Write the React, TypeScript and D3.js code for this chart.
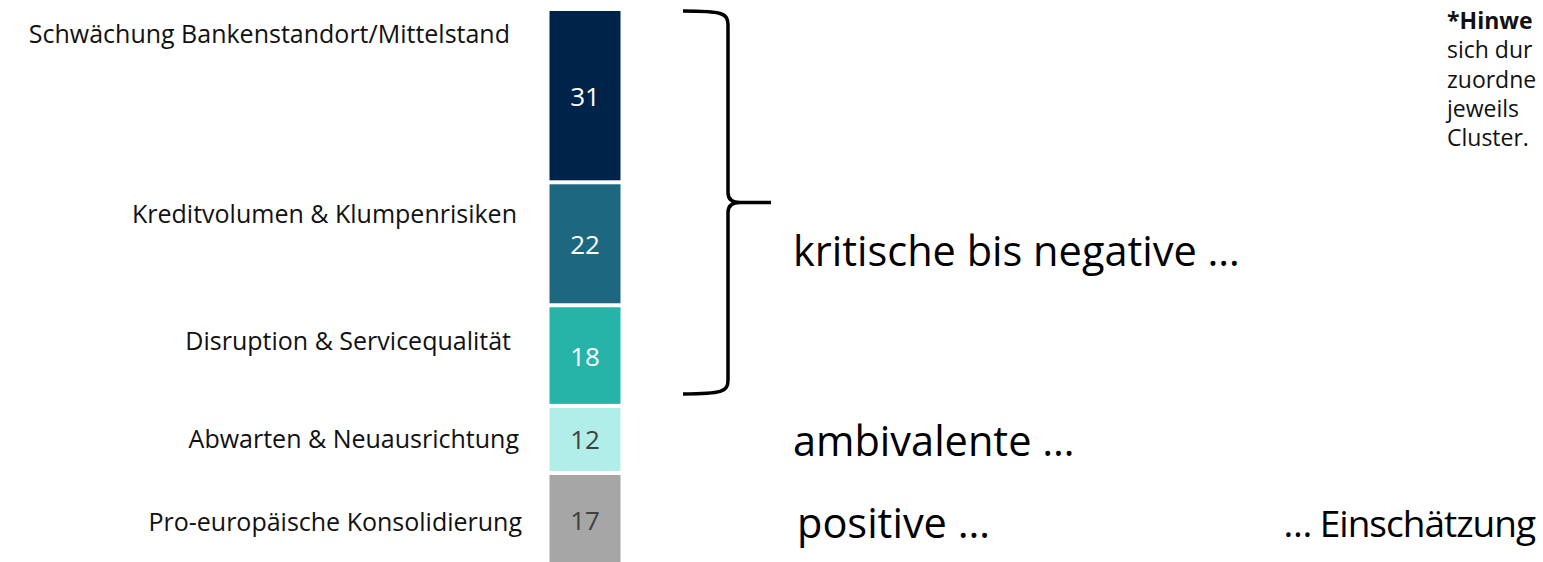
import React, { useEffect, useRef } from 'react';
import * as d3 from 'd3';

// cluster names (left labels), top to bottom
const categories = [
  'Schwächung Bankenstandort/Mittelstand',
  'Kreditvolumen & Klumpenrisiken',
  'Disruption & Servicequalität',
  'Abwarten & Neuausrichtung',
  'Pro-europäische Konsolidierung',
];
// share in %
const values = [31, 22, 18, 12, 17];

const groupLabels = ['kritische bis negative …', 'ambivalente …', 'positive …'];
const footLabel = '… Einschätzung';

// footnote, as far as it is visible on the slide
const noteLines = ['*Hinwe', 'sich dur', 'zuordne', 'jeweils', 'Cluster.'];

// styling
const fills = ['#00234a', '#1d6781', '#26b4a9', '#b1eee9', '#a6a6a6'];
const numberColors = ['#ffffff', '#ffffff', '#ffffff', '#404040', '#404040'];
// label nudges relative to segment centre (px) and right edges
const labelShift = [-63, -31, -16, -1, 1];
const labelRight = [510, 517, 511, 519, 522];

const W = 1543;
const H = 562;
const FONT = "'Open Sans', 'Noto Sans', sans-serif";

const App: React.FC = () => {
  const svgRef = useRef<SVGSVGElement>(null);

  useEffect(() => {
    if (!svgRef.current) return;
    const svg = d3.select(svgRef.current);
    svg.selectAll('*').remove();

    const barX = 549.5;
    const barW = 71;
    const gap = 4;

    const y = d3.scaleLinear().domain([0, 100]).range([11, 570]);

    const starts = values.map((_, i) => d3.sum(values.slice(0, i)));
    const segs = values.map((v, i) => ({
      name: categories[i],
      value: v,
      y0: y(starts[i]),
      y1: y(starts[i] + v) - gap,
      i,
    }));

    const g = svg.append('g');

    // stacked column
    g.selectAll('rect.seg')
      .data(segs)
      .enter()
      .append('rect')
      .attr('class', 'seg')
      .attr('x', barX)
      .attr('y', d => d.y0)
      .attr('width', barW)
      .attr('height', d => d.y1 - d.y0)
      .attr('fill', d => fills[d.i]);

    g.selectAll('text.val')
      .data(segs)
      .enter()
      .append('text')
      .attr('class', 'val')
      .attr('x', barX + barW / 2)
      .attr('y', d => (d.y0 + d.y1) / 2)
      .attr('text-anchor', 'middle')
      .attr('dominant-baseline', 'central')
      .style('font-family', FONT)
      .style('font-size', '26px')
      .style('fill', d => numberColors[d.i])
      .text(d => d.value);

    // cluster labels
    g.selectAll('text.lbl')
      .data(segs)
      .enter()
      .append('text')
      .attr('class', 'lbl')
      .attr('x', d => labelRight[d.i])
      .attr('y', d => (d.y0 + d.y1) / 2 + labelShift[d.i])
      .attr('text-anchor', 'end')
      .attr('dominant-baseline', 'central')
      .style('font-family', FONT)
      .style('font-size', '25px')
      .style('fill', '#111')
      .text(d => d.name);

    // curly brace around the first three clusters
    const top = segs[0].y0;
    const bottom = segs[2].y1 - 10;
    const mid = (top + bottom) / 2;
    const x0 = 683;
    const xs = 728;
    const xp = 771;
    const brace = d3.path();
    brace.moveTo(x0, top);
    brace.bezierCurveTo(xs - 6, top, xs, top + 2, xs, top + 14);
    brace.lineTo(xs, mid - 10);
    brace.quadraticCurveTo(xs, mid, xs + 12, mid);
    brace.lineTo(xp, mid);
    brace.moveTo(xs + 12, mid);
    brace.quadraticCurveTo(xs, mid, xs, mid + 10);
    brace.lineTo(xs, bottom - 14);
    brace.bezierCurveTo(xs, bottom - 2, xs - 6, bottom, x0, bottom);
    g.append('path')
      .attr('d', brace.toString())
      .attr('fill', 'none')
      .attr('stroke', '#000')
      .attr('stroke-width', 3.5);

    // group labels on the right
    const groupY = [250, 440, 522];
    const groupX = [793, 793, 797];
    g.selectAll('text.grp')
      .data(groupLabels)
      .enter()
      .append('text')
      .attr('class', 'grp')
      .attr('x', (_, i) => groupX[i])
      .attr('y', (_, i) => groupY[i])
      .attr('dominant-baseline', 'central')
      .style('font-family', FONT)
      .style('font-size', '41.5px')
      .style('fill', '#000')
      .text(d => d);

    g.append('text')
      .attr('x', 1535)
      .attr('y', 522)
      .attr('text-anchor', 'end')
      .attr('dominant-baseline', 'central')
      .style('font-family', FONT)
      .style('font-size', '37px')
      .style('letter-spacing', '-1px')
      .style('fill', '#000')
      .text(footLabel);

    // footnote (cut at the slide edge)
    g.selectAll('text.note')
      .data(noteLines)
      .enter()
      .append('text')
      .attr('class', 'note')
      .attr('x', 1447)
      .attr('y', (_, i) => 20 + i * 29.3)
      .attr('dominant-baseline', 'central')
      .style('font-family', FONT)
      .style('font-size', '23px')
      .style('font-weight', (_, i) => (i === 0 ? 'bold' : 'normal'))
      .style('fill', '#111')
      .text(d => d);
  }, []);

  return (
    <div style={{ position: 'absolute', left: 0, top: 0, width: W, height: H, overflow: 'hidden', background: '#fff' }}>
      <svg ref={svgRef} width={W} height={H} viewBox={`0 0 ${W} ${H}`} style={{ display: 'block' }} />
    </div>
  );
};

export default App;
